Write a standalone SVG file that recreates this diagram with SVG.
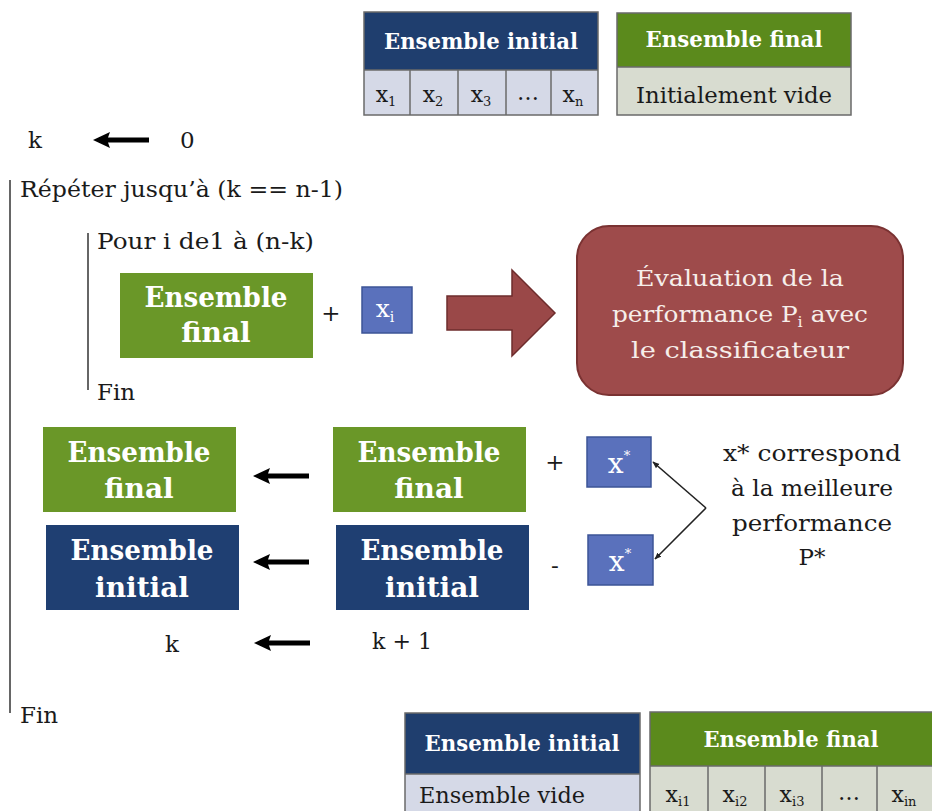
<svg xmlns="http://www.w3.org/2000/svg" width="932" height="811" viewBox="0 0 932 811">
<style>
text{font-family:"DejaVu Serif","Liberation Serif",serif;fill:#1a1a1a}
.w{fill:#ffffff}
.bw{fill:#ffffff;font-weight:bold}
.hdr{font-size:22px}
.box{font-size:28px}
.cell{font-size:22px}
.lbl{font-size:23px}
.ev{font-size:23px;fill:#f6eeea}
.grid{stroke:#6a6a6a;stroke-width:1.5;fill:none}
.bar{stroke:#333;stroke-width:1.5}
.green{fill:#6A9728}
.blue{fill:#1F3F72}
.xb{fill:#5A71BC;stroke:#3C5496;stroke-width:1.5}
.conn{stroke:#222;stroke-width:1.6;fill:none}
</style>
<defs>
<path id="larr" d="M0,0 L17,-8 L15,-2.6 L56,-2.6 L56,2.6 L15,2.6 L17,8 Z" fill="#000"/>
<marker id="ah" viewBox="0 0 10 10" refX="9" refY="5" markerWidth="7" markerHeight="7" orient="auto-start-reverse" markerUnits="userSpaceOnUse">
<path d="M0,1 L10,5 L0,9 Z" fill="#222"/>
</marker>
</defs>

<g id="table-initial-top">
<rect x="364" y="12" width="234" height="58" fill="#1F3E6E"/>
<rect x="364" y="70" width="234" height="45" fill="#D5D9E7"/>
<rect x="364" y="12" width="234" height="103" class="grid"/>
<line x1="364" y1="70" x2="598" y2="70" class="grid"/>
<line x1="410" y1="70" x2="410" y2="115" class="grid"/>
<line x1="458" y1="70" x2="458" y2="115" class="grid"/>
<line x1="506" y1="70" x2="506" y2="115" class="grid"/>
<line x1="551" y1="70" x2="551" y2="115" class="grid"/>
<text x="481" y="49" text-anchor="middle" class="bw hdr" textLength="194" lengthAdjust="spacingAndGlyphs">Ensemble initial</text>
<text x="386" y="102" text-anchor="middle" class="cell">x<tspan dy="4" font-size="13">1</tspan></text>
<text x="433" y="102" text-anchor="middle" class="cell">x<tspan dy="4" font-size="13">2</tspan></text>
<text x="481" y="102" text-anchor="middle" class="cell">x<tspan dy="4" font-size="13">3</tspan></text>
<text x="528" y="100" text-anchor="middle" class="cell">…</text>
<text x="573" y="102" text-anchor="middle" class="cell">x<tspan dy="4" font-size="13">n</tspan></text>
</g>

<g id="table-final-top">
<rect x="617" y="13" width="234" height="54" fill="#5B8A1C"/>
<rect x="617" y="67" width="234" height="48" fill="#D8DCD0"/>
<rect x="617" y="13" width="234" height="102" class="grid"/>
<line x1="617" y1="67" x2="851" y2="67" class="grid"/>
<text x="734" y="47" text-anchor="middle" class="bw hdr" textLength="177" lengthAdjust="spacingAndGlyphs">Ensemble final</text>
<text x="734" y="103" text-anchor="middle" class="lbl" font-size="22" textLength="196" lengthAdjust="spacingAndGlyphs">Initialement vide</text>
</g>

<g id="init-k">
<text x="28" y="148" class="lbl">k</text>
<text x="180" y="148" class="lbl">0</text>
</g>

<g id="loop-outer">
<line x1="10" y1="180" x2="10" y2="713" class="bar"/>
<text x="20" y="197" class="lbl" textLength="323" lengthAdjust="spacingAndGlyphs">Répéter jusqu’à (k == n-1)</text>
<text x="20" y="723" class="lbl">Fin</text>
</g>

<g id="loop-inner">
<line x1="88" y1="233" x2="88" y2="390" class="bar"/>
<text x="97" y="249" class="lbl" textLength="217" lengthAdjust="spacingAndGlyphs">Pour i de1 à (n-k)</text>
<text x="97" y="400" class="lbl">Fin</text>
</g>

<g id="node-final-1">
<rect x="120" y="273" width="193" height="85" class="green"/>
<text x="216" y="307" text-anchor="middle" class="bw box" textLength="143" lengthAdjust="spacingAndGlyphs">Ensemble</text>
<text x="216" y="342" text-anchor="middle" class="bw box">final</text>
</g>
<g id="plus-1"><text x="331" y="321" text-anchor="middle" class="lbl" font-size="21">+</text></g>
<g id="node-xi">
<rect x="362" y="287" width="50" height="46" class="xb"/>
<text x="385" y="317" text-anchor="middle" class="w" font-size="25">x<tspan dy="5" font-size="14">i</tspan></text>
</g>

<g id="node-eval">
<rect x="577" y="226" width="326" height="169" rx="32" ry="32" fill="#9E4B4B" stroke="#7A3232" stroke-width="2"/>
<text x="740" y="286" text-anchor="middle" class="ev" textLength="208" lengthAdjust="spacingAndGlyphs">Évaluation de la</text>
<text x="740" y="322" text-anchor="middle" class="ev" textLength="256" lengthAdjust="spacingAndGlyphs">performance P<tspan dy="5" font-size="15">i</tspan><tspan dy="-5"> avec</tspan></text>
<text x="740" y="358" text-anchor="middle" class="ev" textLength="218" lengthAdjust="spacingAndGlyphs">le classificateur</text>
</g>

<g id="node-final-2">
<rect x="43" y="427" width="193" height="85" class="green"/>
<text x="139" y="462" text-anchor="middle" class="bw box" textLength="143" lengthAdjust="spacingAndGlyphs">Ensemble</text>
<text x="139" y="498" text-anchor="middle" class="bw box">final</text>
</g>
<g id="node-final-3">
<rect x="333" y="427" width="193" height="85" class="green"/>
<text x="429" y="462" text-anchor="middle" class="bw box" textLength="143" lengthAdjust="spacingAndGlyphs">Ensemble</text>
<text x="429" y="498" text-anchor="middle" class="bw box">final</text>
</g>
<g id="node-initial-1">
<rect x="46" y="525" width="193" height="85" class="blue"/>
<text x="142" y="560" text-anchor="middle" class="bw box" textLength="143" lengthAdjust="spacingAndGlyphs">Ensemble</text>
<text x="142" y="597" text-anchor="middle" class="bw box">initial</text>
</g>
<g id="node-initial-2">
<rect x="336" y="525" width="193" height="85" class="blue"/>
<text x="432" y="560" text-anchor="middle" class="bw box" textLength="143" lengthAdjust="spacingAndGlyphs">Ensemble</text>
<text x="432" y="597" text-anchor="middle" class="bw box">initial</text>
</g>
<g id="plus-2"><text x="555" y="470" text-anchor="middle" class="lbl" font-size="21">+</text></g>
<g id="minus-1"><text x="555" y="573" text-anchor="middle" class="lbl" font-size="21">-</text></g>
<g id="node-xstar-1">
<rect x="587" y="437" width="64" height="50" class="xb"/>
<text x="619" y="473" text-anchor="middle" class="w" font-size="28">x<tspan dy="-13" font-size="13">*</tspan></text>
</g>
<g id="node-xstar-2">
<rect x="588" y="535" width="65" height="50" class="xb"/>
<text x="620" y="571" text-anchor="middle" class="w" font-size="28">x<tspan dy="-13" font-size="13">*</tspan></text>
</g>
<g id="note-xstar">
<text x="812" y="461" text-anchor="middle" class="lbl" font-size="24" textLength="178" lengthAdjust="spacingAndGlyphs">x* correspond</text>
<text x="812" y="496" text-anchor="middle" class="lbl" font-size="24" textLength="162" lengthAdjust="spacingAndGlyphs">à la meilleure</text>
<text x="812" y="531" text-anchor="middle" class="lbl" font-size="24" textLength="160" lengthAdjust="spacingAndGlyphs">performance</text>
<text x="812" y="565" text-anchor="middle" class="lbl" font-size="24">P*</text>
</g>

<g id="update-k">
<text x="172" y="652" text-anchor="middle" class="lbl">k</text>
<text x="402" y="649" text-anchor="middle" class="lbl" textLength="60" lengthAdjust="spacingAndGlyphs">k + 1</text>
</g>

<g id="table-initial-bottom">
<rect x="405" y="713" width="235" height="61" fill="#1F3E6E"/>
<rect x="405" y="774" width="235" height="40" fill="#D5D9E7"/>
<rect x="405" y="713" width="235" height="101" class="grid"/>
<line x1="405" y1="774" x2="640" y2="774" class="grid"/>
<text x="522" y="751" text-anchor="middle" class="bw hdr" textLength="195" lengthAdjust="spacingAndGlyphs">Ensemble initial</text>
<text x="419" y="803" class="lbl" font-size="22" textLength="166" lengthAdjust="spacingAndGlyphs">Ensemble vide</text>
</g>

<g id="table-final-bottom">
<rect x="650" y="712" width="285" height="54" fill="#5B8A1C"/>
<rect x="650" y="766" width="285" height="48" fill="#D8DCD0"/>
<rect x="650" y="712" width="285" height="102" class="grid"/>
<line x1="650" y1="766" x2="935" y2="766" class="grid"/>
<line x1="708" y1="766" x2="708" y2="814" class="grid"/>
<line x1="765" y1="766" x2="765" y2="814" class="grid"/>
<line x1="822" y1="766" x2="822" y2="814" class="grid"/>
<line x1="877" y1="766" x2="877" y2="814" class="grid"/>
<text x="791" y="747" text-anchor="middle" class="bw hdr" textLength="175" lengthAdjust="spacingAndGlyphs">Ensemble final</text>
<text x="678" y="802" text-anchor="middle" class="cell">x<tspan dy="4" font-size="13">i1</tspan></text>
<text x="735" y="802" text-anchor="middle" class="cell">x<tspan dy="4" font-size="13">i2</tspan></text>
<text x="792" y="802" text-anchor="middle" class="cell">x<tspan dy="4" font-size="13">i3</tspan></text>
<text x="849" y="800" text-anchor="middle" class="cell">…</text>
<text x="904" y="802" text-anchor="middle" class="cell">x<tspan dy="4" font-size="13">in</tspan></text>
</g>

<g id="connectors">
<use href="#larr" x="93" y="140"/>
<use href="#larr" x="253" y="476"/>
<use href="#larr" x="253" y="562"/>
<use href="#larr" x="254" y="643"/>
<path d="M447,296 L512,296 L512,270 L555,313 L512,356 L512,330 L447,330 Z" fill="#9A4848" stroke="#6E2C2C" stroke-width="1.5"/>
<polyline points="706,508 653,462" class="conn" marker-end="url(#ah)"/>
<polyline points="706,508 655,559" class="conn" marker-end="url(#ah)"/>
</g>
</svg>
